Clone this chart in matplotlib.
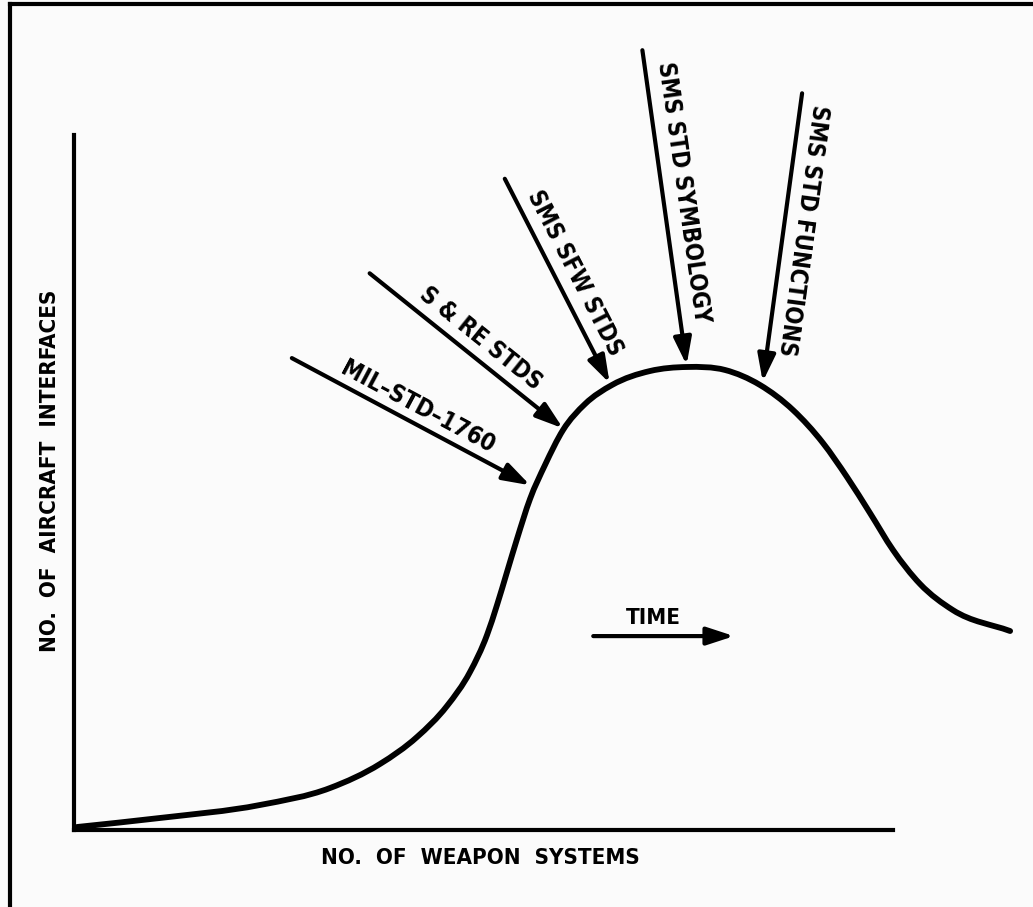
import matplotlib
matplotlib.use("Agg")
import matplotlib.pyplot as plt
from matplotlib.lines import Line2D
from matplotlib.path import Path
from matplotlib.patches import PathPatch

plt.rcParams['font.family'] = ['DejaVu Sans']
plt.rcParams['font.weight'] = 'bold'
plt.rcParams['font.stretch'] = 'condensed'

# ---- data (arbitrary units: weapon systems vs aircraft interfaces) ----
curve_x = [0.37, 10.50, 22.71, 31.26, 37.36, 41.88, 45.54, 48.35, 50.43, 51.65,
           52.87, 54.09, 55.68, 57.51, 59.71, 62.39, 65.69, 70.33, 74.85, 79.49,
           83.76, 87.79, 91.45, 94.38, 97.19, 100.0, 103.3, 107.3, 114.3]
curve_y = [0.43, 1.73, 3.60, 6.04, 9.50, 13.38, 17.84, 22.73, 28.06, 32.37,
           37.12, 41.87, 47.63, 52.52, 57.55, 61.29, 64.03, 66.04, 66.62, 66.19,
           64.03, 60.43, 55.68, 50.79, 45.61, 40.29, 35.40, 31.65, 28.63]

milestone_labels = ["MIL\u2013STD\u20131760", "S & RE STDS", "SMS SFW STDS",
                    "SMS STD SYMBOLOGY", "SMS STD FUNCTIONS"]
arrow_start = [(26.6, 67.9), (36.1, 80.1), (52.6, 93.7), (69.4, 112.2), (88.9, 106.0)]
arrow_end = [(55.7, 49.6), (59.7, 57.8), (65.4, 64.3), (74.8, 66.9), (84.1, 64.5)]
label_pos = [(42.0, 60.9), (49.6, 70.8), (61.2, 80.1), (74.4, 91.7), (89.0, 86.3)]
label_rot = [-28.1, -38.8, -62.8, -81.9, -97.7]

time_label = "TIME"
time_start = (63.4, 27.9)
time_end = (80.6, 27.9)
time_label_pos = (70.7, 30.5)

x_label = "NO.  OF  WEAPON  SYSTEMS"
y_label = "NO.  OF  AIRCRAFT  INTERFACES"

# ---- figure ----
W, H = 1033, 907
fig = plt.figure(figsize=(W / 100, H / 100), dpi=100, facecolor='#fbfbfb')
ax = fig.add_axes([74 / W, (H - 830) / H, (893 - 74) / W, (830 - 135) / H])
ax.set_facecolor('none')
ax.set_xlim(0, 100)
ax.set_ylim(0, 100)
for s in ['top', 'right']:
    ax.spines[s].set_visible(False)
for s in ['left', 'bottom']:
    ax.spines[s].set_linewidth(3)
    ax.spines[s].set_capstyle('projecting')
ax.set_xticks([])
ax.set_yticks([])

# smooth rendering through the read points: x-parameterised cubic Hermite as Bezier path
n = len(curve_x)
h = [curve_x[i + 1] - curve_x[i] for i in range(n - 1)]
d = [(curve_y[i + 1] - curve_y[i]) / h[i] for i in range(n - 1)]
m = [d[0]]
for i in range(1, n - 1):
    m.append((d[i - 1] * h[i] + d[i] * h[i - 1]) / (h[i - 1] + h[i]))
m.append(d[-1])
verts = [(curve_x[0], curve_y[0])]
codes = [Path.MOVETO]
for i in range(n - 1):
    c1 = (curve_x[i] + h[i] / 3.0, curve_y[i] + m[i] * h[i] / 3.0)
    c2 = (curve_x[i + 1] - h[i] / 3.0, curve_y[i + 1] - m[i + 1] * h[i] / 3.0)
    verts += [c1, c2, (curve_x[i + 1], curve_y[i + 1])]
    codes += [Path.CURVE4] * 3
curve_patch = PathPatch(Path(verts, codes), fill=False, edgecolor='black', lw=4.2,
                        capstyle='round', joinstyle='round', transform=ax.transData,
                        clip_on=False)
ax.add_patch(curve_patch)

ap = dict(arrowstyle='-|>,head_length=0.55,head_width=0.18', lw=3, color='black',
          mutation_scale=30, shrinkA=0, shrinkB=0)
for lab, st, en, pos, rot in zip(milestone_labels, arrow_start, arrow_end, label_pos, label_rot):
    ax.annotate('', xy=en, xytext=st, arrowprops=ap, annotation_clip=False)
    ax.text(pos[0], pos[1], lab, rotation=rot, rotation_mode='anchor',
            ha='center', va='center', fontsize=17, fontweight='bold',
            fontstretch='condensed', clip_on=False)

ax.annotate('', xy=time_end, xytext=time_start, arrowprops=ap, annotation_clip=False)
ax.text(time_label_pos[0], time_label_pos[1], time_label, ha='center', va='center',
        fontsize=16, fontweight='bold', fontstretch='condensed')

ax.set_xlabel(x_label, fontsize=16, fontweight='bold', fontstretch='condensed')
ax.set_ylabel(y_label, fontsize=16, fontweight='bold', fontstretch='condensed')
ax.xaxis.set_label_coords(0.496, -0.040)
ax.yaxis.set_label_coords(-0.029, 0.517)
ax.xaxis.label.set_va('center')
ax.yaxis.label.set_va('center')

# outer frame (top and left edges)
fig.add_artist(Line2D([10 / W, 1.0], [1 - 4 / H, 1 - 4 / H], color='black', lw=3,
                      transform=fig.transFigure))
fig.add_artist(Line2D([10 / W, 10 / W], [0.0, 1 - 4 / H], color='black', lw=3,
                      transform=fig.transFigure))

fig.savefig('out.png', dpi=100, facecolor=fig.get_facecolor())
